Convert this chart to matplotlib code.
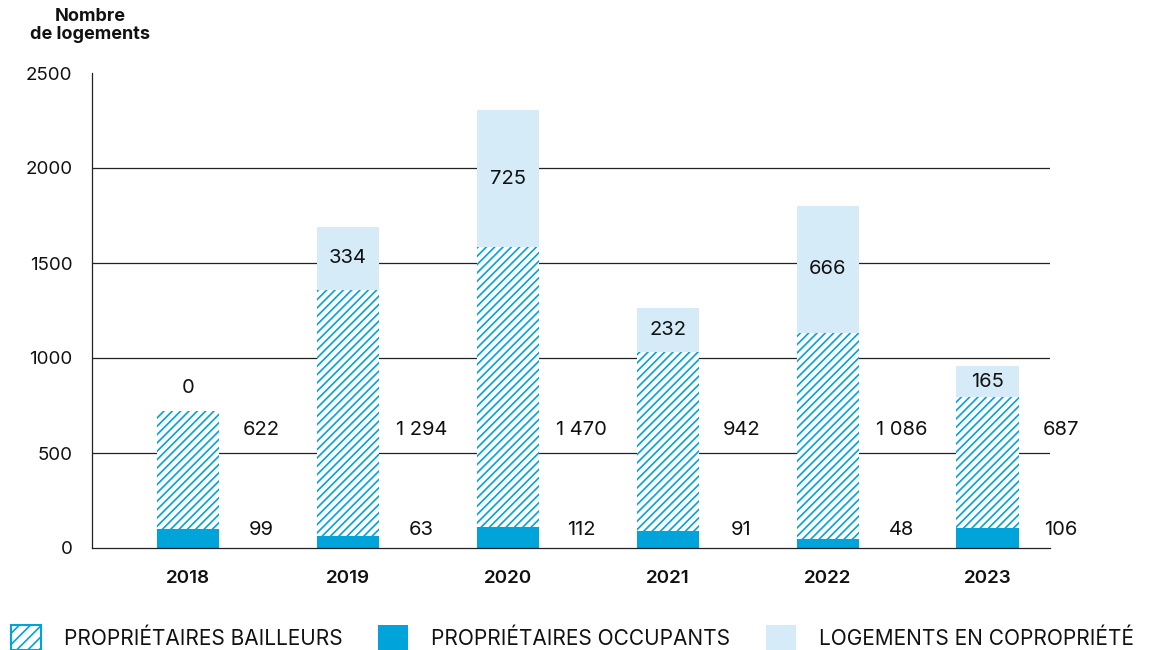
import matplotlib
matplotlib.use("Agg")
import matplotlib.pyplot as plt
from matplotlib.patches import Patch
import numpy as np

plt.rcParams['font.family'] = ['Inter', 'DejaVu Sans']
plt.rcParams['hatch.linewidth'] = 1.2

years = ["2018", "2019", "2020", "2021", "2022", "2023"]
occupants = [99, 63, 112, 91, 48, 106]
bailleurs = [622, 1294, 1470, 942, 1086, 687]
copro = [0, 334, 725, 232, 666, 165]
yticks = [0, 500, 1000, 1500, 2000, 2500]

def fmt(v):
    return f"{v:,}".replace(",", " ") if v >= 1000 else str(v)

BLUE = "#00A3DA"
LIGHT = "#D6EBF8"
TXT = "#111111"

fig = plt.figure(figsize=(11.59, 6.5), dpi=100)
ax = fig.add_axes([92/1159, 1-548/650, (1050-92)/1159, (548-73)/650])

x = np.arange(len(years))
w = 0.39
occ = np.array(occupants)
bai = np.array(bailleurs)
cop = np.array(copro)

for yv in yticks[1:-1]:
    ax.axhline(yv, color="#222222", lw=0.9, zorder=0)

ax.bar(x, occ, w, color=BLUE, lw=0, zorder=2)
ax.bar(x, bai, w, bottom=occ, facecolor="white", edgecolor=BLUE, hatch="////", lw=0, zorder=2)
ax.bar(x, cop, w, bottom=occ + bai, color=LIGHT, lw=0, zorder=2)

FS = 14.5
for i in range(len(years)):
    top = occ[i] + bai[i]
    if cop[i] > 0:
        ax.text(x[i], top + cop[i] / 2, fmt(cop[i]), ha="center", va="center", fontsize=FS, color=TXT, zorder=3)
    else:
        ax.text(x[i], top + 120, fmt(cop[i]), ha="center", va="center", fontsize=FS, color=TXT, zorder=3)
    ax.text(x[i] + 0.46, 621, fmt(bai[i]), ha="center", va="center", fontsize=FS, color=TXT)
    ax.text(x[i] + 0.46, 95, fmt(occ[i]), ha="center", va="center", fontsize=FS, color=TXT)

ax.set_xlim(-0.6, 5.39)
ax.set_ylim(0, 2500)
ax.set_yticks(yticks)
ax.set_yticklabels([str(v) for v in yticks], fontsize=13.5, color=TXT)
ax.set_xticks(x)
ax.set_xticklabels(years, fontsize=13.5, fontweight="semibold", color=TXT)
ax.tick_params(axis="y", length=0, pad=14)
ax.tick_params(axis="x", length=0, pad=16)
for s in ["top", "right"]:
    ax.spines[s].set_visible(False)
for s in ["left", "bottom"]:
    ax.spines[s].set_linewidth(0.9)
    ax.spines[s].set_color("#222222")

fig.text(90/1159, 1-8/650, "Nombre\nde logements", ha="center", va="top",
         fontsize=13, fontweight="bold", color=TXT, linespacing=1.05)

handles = [
    Patch(facecolor="white", edgecolor=BLUE, hatch="///", lw=1.5),
    Patch(facecolor=BLUE, edgecolor=BLUE, lw=0),
    Patch(facecolor=LIGHT, edgecolor=LIGHT, lw=0),
]
labels = ["PROPRIÉTAIRES BAILLEURS", "PROPRIÉTAIRES OCCUPANTS", "LOGEMENTS EN COPROPRIÉTÉ"]
fig.legend(handles, labels, loc="lower left", bbox_to_anchor=(11/1159, 0.0), ncol=3,
           frameon=False, fontsize=15, handlelength=1.45, handleheight=1.45,
           handletextpad=1.1, columnspacing=1.7, labelcolor=TXT,
           borderpad=0, borderaxespad=0)

fig.savefig("out.png", dpi=100)
